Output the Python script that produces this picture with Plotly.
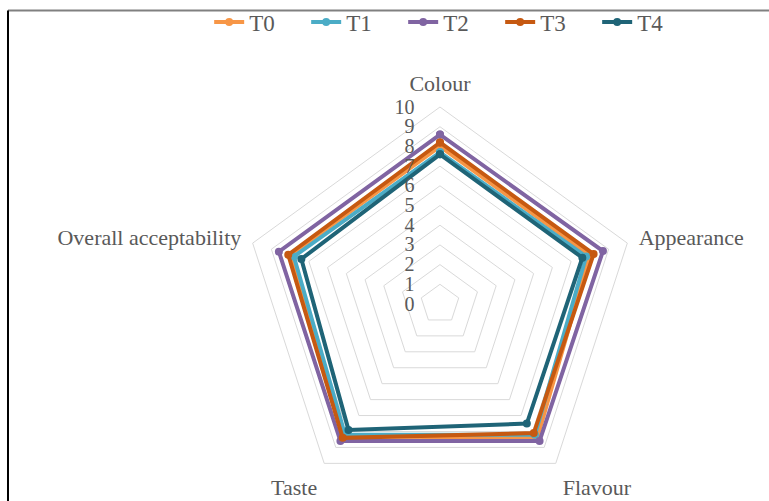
import plotly.graph_objects as go

# Sensory attributes scored on a 0-10 scale
attributes = ["Colour", "Appearance", "Flavour", "Taste", "Overall acceptability"]

# Mean scores for each treatment, in the order of `attributes`
t0 = [8.0, 8.0, 8.4, 8.3, 8.0]
t1 = [7.7, 7.8, 8.2, 8.2, 7.8]
t2 = [8.6, 8.7, 8.6, 8.6, 8.6]
t3 = [8.2, 8.2, 8.1, 8.4, 8.1]
t4 = [7.6, 7.6, 7.5, 7.9, 7.4]

series_names = ["T0", "T1", "T2", "T3", "T4"]
series_values = [t0, t1, t2, t3, t4]
series_colors = ["#f79646", "#4bacc6", "#8064a2", "#c65911", "#1f6477"]

radial_ticks = list(range(0, 11))

FONT = "Times New Roman, Liberation Serif, serif"
GRID = "#d9d9d9"
TEXT = "#595959"

fig = go.Figure()

for name, vals, col in zip(series_names, series_values, series_colors):
    fig.add_trace(go.Scatterpolar(
        r=vals + vals[:1],
        theta=attributes + attributes[:1],
        name=name,
        mode="lines+markers",
        line=dict(color=col, width=4),
        marker=dict(color=col, size=8),
        cliponaxis=False,
    ))

fig.update_layout(
    width=769,
    height=501,
    margin=dict(l=0, r=0, t=0, b=0, autoexpand=False),
    paper_bgcolor="white",
    plot_bgcolor="white",
    font=dict(family=FONT, color=TEXT),
    showlegend=True,
    legend=dict(
        orientation="h",
        x=0.272, xanchor="left",
        y=0.956, yanchor="middle",
        font=dict(family=FONT, size=23, color=TEXT),
        entrywidth=52,
        bgcolor="rgba(0,0,0,0)",
    ),
    polar=dict(
        domain=dict(x=[0.316, 0.8283], y=[0.0, 0.7864]),
        gridshape="linear",
        bgcolor="white",
        radialaxis=dict(
            range=[0, 10],
            tickvals=radial_ticks,
            ticktext=[str(v) for v in radial_ticks],
            angle=90,
            side="counterclockwise",
            showline=False,
            ticks="outside",
            ticklen=18,
            tickcolor="rgba(0,0,0,0)",
            tickangle=90,
            showgrid=True,
            gridcolor=GRID,
            gridwidth=1,
            tickfont=dict(family=FONT, size=20, color=TEXT),
        ),
        angularaxis=dict(
            rotation=90,
            direction="clockwise",
            showgrid=False,
            showline=True,
            linecolor=GRID,
            linewidth=1,
            ticks="outside",
            ticklen=7,
            tickcolor="rgba(0,0,0,0)",
            tickfont=dict(family=FONT, size=22, color=TEXT),
        ),
    ),
    shapes=[
        dict(type="line", xref="paper", yref="paper",
             x0=0.0104, x1=1.0, y0=0.979, y1=0.979,
             line=dict(color="#808080", width=2)),
        dict(type="line", xref="paper", yref="paper",
             x0=0.0104, x1=0.0104, y0=0.0, y1=0.979,
             line=dict(color="#000000", width=2)),
    ],
)

fig.write_html("out.html")
